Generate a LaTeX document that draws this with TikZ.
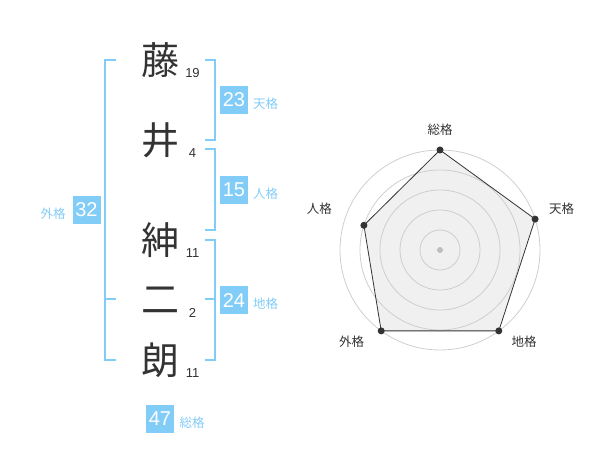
\documentclass[tikz,border=0pt]{standalone}
\usepackage{fontspec}
\setmainfont{Liberation Sans}
\newfontfamily\jpfont{Noto Sans CJK JP}
\definecolor{skyblue}{RGB}{130,204,248}
\definecolor{inkgray}{RGB}{51,51,51}
\definecolor{ringgray}{RGB}{206,206,206}
\definecolor{areagray}{RGB}{240,240,240}
\definecolor{hubgray}{RGB}{190,190,190}

\begin{document}
\begin{tikzpicture}[x=1pt,y=-1pt,
    kanji/.style={inner sep=0pt,text=inkgray,font=\jpfont\fontsize{38}{38}\selectfont},
    strokes/.style={inner sep=0pt,text=inkgray,font=\fontsize{13}{13}\selectfont},
    valbox/.style={fill=skyblue,text=white,minimum width=28pt,minimum height=28pt,inner sep=0pt,font=\fontsize{20}{20}\selectfont},
    vallabel/.style={inner sep=0pt,text=skyblue,font=\jpfont\fontsize{12.5}{12.5}\selectfont},
    bracket/.style={draw=skyblue,line width=2pt},
    ring/.style={draw=ringgray,line width=0.8pt},
    axislabel/.style={inner sep=0pt,text=inkgray,font=\jpfont\fontsize{12.5}{12.5}\selectfont},
    dot/.style={circle,fill=inkgray,inner sep=0pt,minimum size=7pt}]

        \useasboundingbox (0,0) rectangle (600,470);

        % name, one character per line
        \node[kanji] (k1) at (160,60) {藤};
        \node[kanji] (k2) at (160,140) {井};
        \node[kanji] (k3) at (160,240) {紳};
        \node[kanji] (k4) at (160,300) {二};
        \node[kanji] (k5) at (160,360) {朗};
        \node[strokes] (s1) at (192.5,72.7) {19};
        \node[strokes] (s2) at (192.5,153.3) {4};
        \node[strokes] (s3) at (192.5,252.7) {11};
        \node[strokes] (s4) at (192.5,313.3) {2};
        \node[strokes] (s5) at (192.5,372.7) {11};

        % brackets
        \draw[bracket] (116,60) -- (105,60) -- (105,360) -- (116,360);
        \draw[bracket] (105,299) -- (116,299);
        \draw[bracket] (205,60) -- (214.5,60) -- (214.5,140) -- (205,140);
        \draw[bracket] (205,149.5) -- (214.5,149.5) -- (214.5,230) -- (205,230);
        \draw[bracket] (205,240) -- (214.5,240) -- (214.5,360) -- (205,360);
        \draw[bracket] (205,299) -- (214.5,299);

        \node[valbox] (ten) at (234,100) {23};
        \node[vallabel] (tenl) at (265.5,103.5) {天格};
        \node[valbox] (jin) at (234,190) {15};
        \node[vallabel] (jinl) at (265.5,193.5) {人格};
        \node[valbox] (chi) at (234,300.5) {24};
        \node[vallabel] (chil) at (265.5,304) {地格};
        \node[valbox] (gai) at (86.5,210) {32};
        \node[vallabel] (gail) at (53,213.5) {外格};
        \node[valbox] (sou) at (160,419) {47};
        \node[vallabel] (soul) at (192,423) {総格};

        % radar
          \coordinate (c) at (440,250);
          \coordinate (p1) at (440,150);
          \coordinate (p2) at (535.1,219.1);
          \coordinate (p3) at (498.8,330.9);
          \coordinate (p4) at (381.2,330.9);
          \coordinate (p5) at (363.9,225.3);
          \fill[areagray] (p1) -- (p2) -- (p3) -- (p4) -- (p5) -- cycle;
          \draw[ring] (c) circle (20pt);
          \draw[ring] (c) circle (40pt);
          \draw[ring] (c) circle (60pt);
          \draw[ring] (c) circle (80pt);
          \draw[ring] (c) circle (100pt);
          \draw[inkgray,line width=0.8pt] (p1) -- (p2) -- (p3) -- (p4) -- (p5) -- cycle;
        \node[circle,fill=hubgray,inner sep=0pt,minimum size=6pt] (hub) at (c) {};
        \node[dot] at (p1) {};
        \node[dot] at (p2) {};
        \node[dot] at (p3) {};
        \node[dot] at (p4) {};
        \node[dot] at (p5) {};
        \node[axislabel] (a1) at (440,130) {総格};
        \node[axislabel] (a2) at (561.7,208.3) {天格};
        \node[axislabel] (a3) at (524,341.7) {地格};
        \node[axislabel] (a4) at (351.7,341.7) {外格};
        \node[axislabel] (a5) at (319.3,208.3) {人格};
        \end{tikzpicture}
\end{document}
